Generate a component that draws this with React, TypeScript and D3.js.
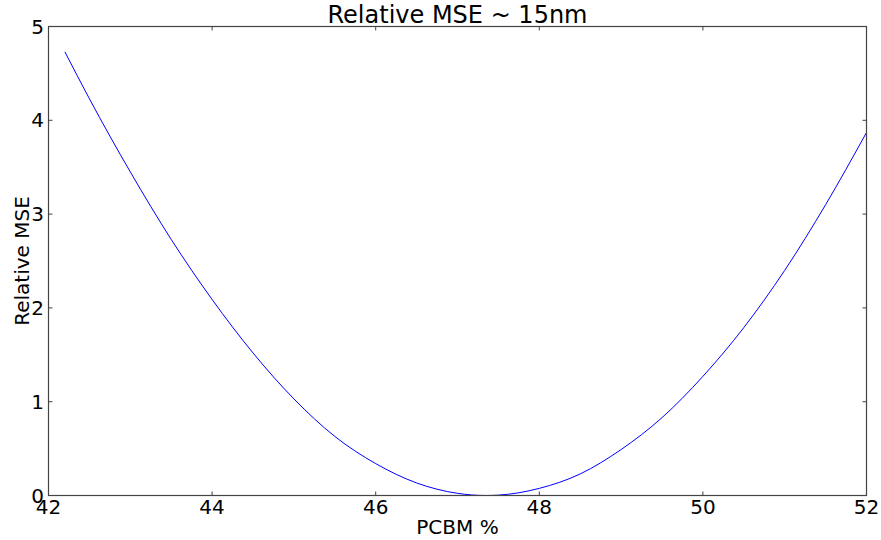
import React from "react";
import * as d3 from "d3";

const pcbm = [42.2, 42.5, 43.0, 43.5, 44.0, 44.5, 45.0, 45.5, 46.0, 46.5, 47.0, 47.35, 47.5, 48.0, 48.5, 49.0, 49.5, 50.0, 50.5, 51.0, 51.5, 52.0];
const mse = [4.73, 4.23, 3.45, 2.73, 2.09, 1.52, 1.03, 0.63, 0.34, 0.134, 0.023, 0.0, 0.004, 0.076, 0.23, 0.49, 0.83, 1.27, 1.79, 2.40, 3.10, 3.87];
const xTicks = [42, 44, 46, 48, 50, 52];
const yTicks = [0, 1, 2, 3, 4, 5];
const title = "Relative MSE ~ 15nm";
const xLabel = "PCBM %";
const yLabel = "Relative MSE";

export default function App() {
  const W = 881, H = 540;
  const L = 48.5, R = 866.5, T = 26.5, B = 495.5;
  const x = d3.scaleLinear().domain([42, 52]).range([L, R]);
  const y = d3.scaleLinear().domain([0, 5]).range([B, T]);
  const pts = pcbm.map((v, i) => [v, mse[i]] as [number, number]);
  const line = d3.line<[number, number]>().x(d => x(d[0])).y(d => y(d[1])).curve(d3.curveMonotoneX);
  const font = "'DejaVu Sans', sans-serif";
  return (
    <svg width={W} height={H} style={{ position: "absolute", left: 0, top: 0, background: "#fff" }} fontFamily={font}>
      <path d={line(pts) || ""} fill="none" stroke="#0000ff" strokeWidth={1} />
      <rect x={L} y={T} width={R - L} height={B - T} fill="none" stroke="#444" strokeWidth={1.2} />
      {xTicks.map(t => (
        <g key={"x" + t}>
          <line x1={x(t)} x2={x(t)} y1={B} y2={B - 4} stroke="#444" />
          <line x1={x(t)} x2={x(t)} y1={T} y2={T + 4} stroke="#444" />
          <text x={x(t)} y={514} fontSize={20} textAnchor="middle" fill="#000">{t}</text>
        </g>
      ))}
      {yTicks.map(t => (
        <g key={"y" + t}>
          <line x1={L} x2={L + 4} y1={y(t)} y2={y(t)} stroke="#444" />
          <line x1={R} x2={R - 4} y1={y(t)} y2={y(t)} stroke="#444" />
          <text x={44} y={y(t) + 7} fontSize={20} textAnchor="end" fill="#000">{t}</text>
        </g>
      ))}
      <text x={(L + R) / 2} y={23} fontSize={24} textAnchor="middle" fill="#000">{title}</text>
      <text x={(L + R) / 2} y={534} fontSize={20} textAnchor="middle" fill="#000">{xLabel}</text>
      <text transform={`translate(29,${(T + B) / 2}) rotate(-90)`} fontSize={20} textAnchor="middle" fill="#000">{yLabel}</text>
    </svg>
  );
}
